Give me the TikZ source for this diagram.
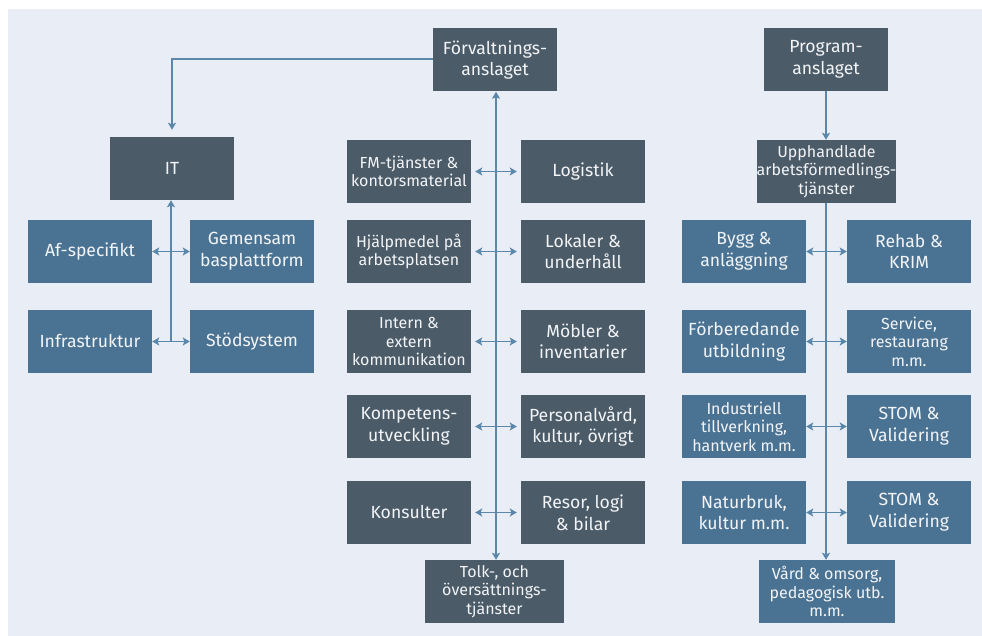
\documentclass[tikz,border=0pt]{standalone}
\usepackage{fontspec}
\setmainfont{Fira Sans}
\usetikzlibrary{arrows.meta}
\definecolor{bgc}{HTML}{E9EDF5}
\definecolor{darkbox}{HTML}{4B5B67}
\definecolor{bluebox}{HTML}{4A7393}
\definecolor{linec}{HTML}{5B88AA}
\definecolor{txt}{HTML}{F2F4F7}
\tikzset{
  box/.style={minimum width=124pt, minimum height=63pt, inner sep=0pt, align=center, text=txt,
    font=\fontsize{17.6}{21.6}\selectfont},
  dbox/.style={box, fill=darkbox},
  bbox/.style={box, fill=bluebox},
  small/.style={font=\fontsize{16}{18.4}\selectfont},
  conn/.style={draw=linec, line width=1.6pt, arrows={-Stealth[length=7pt,width=8pt,inset=1.5pt]}},
  dconn/.style={draw=linec, line width=1.6pt, arrows={Stealth[length=7pt,width=8pt,inset=1.5pt]-Stealth[length=7pt,width=8pt,inset=1.5pt]}}
}
\begin{document}
\begin{tikzpicture}[x=1pt,y=-1pt]
\useasboundingbox (0,0) rectangle (982,636);
\fill[bgc] (8,9) rectangle (982,636);

% top nodes
\node[dbox] (forv) at (495,60) {Förvaltnings-\\anslaget};
\node[dbox] (prog) at (826,59.5) {Program-\\anslaget};
\node[dbox] (it) at (172,168.5) {IT};

% IT group
\node[bbox] (afs) at (90,251.5) {Af-specifikt};
\node[bbox] (gem) at (252,251.5) {Gemensam\\basplattform};
\node[bbox] (infra) at (90,341.5) {Infrastruktur};
\node[bbox] (stod) at (252,341.5) {Stödsystem};

% middle column
\node[dbox,small] (m1l) at (409,171.5) {FM-tjänster \&\\kontorsmaterial};
\node[dbox] (m1r) at (583,171.5) {Logistik};
\node[dbox,small] (m2l) at (409,251.5) {Hjälpmedel på\\arbetsplatsen};
\node[dbox] (m2r) at (583,251.5) {Lokaler \&\\underhåll};
\node[dbox,small] (m3l) at (409,341.5) {Intern \&\\extern\\kommunikation};
\node[dbox] (m3r) at (583,341.5) {Möbler \&\\inventarier};
\node[dbox] (m4l) at (409,426.5) {Kompetens-\\utveckling};
\node[dbox] (m4r) at (583,426.5) {Personalvård,\\kultur, övrigt};
\node[dbox] (m5l) at (409,512.5) {Konsulter};
\node[dbox] (m5r) at (583,512.5) {Resor, logi\\\& bilar};
\node[dbox,small,minimum width=139pt] (tolk) at (494.5,591.5) {Tolk-, och\\översättnings-\\tjänster};

% right column
\node[dbox,small,minimum width=139pt] (upph) at (826.5,171.5) {Upphandlade\\arbetsförmedlings-\\tjänster};
\node[bbox] (r1l) at (744,251.5) {Bygg \&\\anläggning};
\node[bbox] (r1r) at (909,251.5) {Rehab \&\\KRIM};
\node[bbox] (r2l) at (744,341.5) {Förberedande\\utbildning};
\node[bbox,small] (r2r) at (909,341.5) {Service,\\restaurang\\m.m.};
\node[bbox,small] (r3l) at (744,426.5) {Industriell\\tillverkning,\\hantverk m.m.};
\node[bbox] (r3r) at (909,426.5) {STOM \&\\Validering};
\node[bbox] (r4l) at (744,512.5) {Naturbruk,\\kultur m.m.};
\node[bbox] (r4r) at (909,512.5) {STOM \&\\Validering};
\node[bbox,small,minimum width=136pt] (vard) at (827,591.5) {Vård \& omsorg,\\pedagogisk utb.\\m.m.};

% connectors: IT
\draw[conn] ([yshift=1pt]forv.west) -| ([yshift=7pt]it.north);
\draw[conn] ([xshift=-1pt]it.south |- infra.east) -- ([xshift=-1pt]it.south);
\draw[dconn] (afs.east) -- (gem.west);
\draw[dconn] (infra.east) -- (stod.west);

% connectors: middle
\coordinate (mtop) at ([xshift=1pt]forv.south);
\draw[dconn] (mtop) -- (mtop |- tolk.north);
\foreach \i in {1,...,5}{
  \draw[dconn] ([xshift=4pt]m\i l.east) -- ([xshift=-4pt]m\i r.west);
}

% connectors: right
\draw[conn] (prog.south) -- (prog.south |- upph.north);
\draw[conn] (prog.south |- upph.south) -- (prog.south |- vard.north);
\foreach \i in {1,...,4}{
  \draw[dconn] (r\i l.east) -- (r\i r.west);
}
\end{tikzpicture}
\end{document}
